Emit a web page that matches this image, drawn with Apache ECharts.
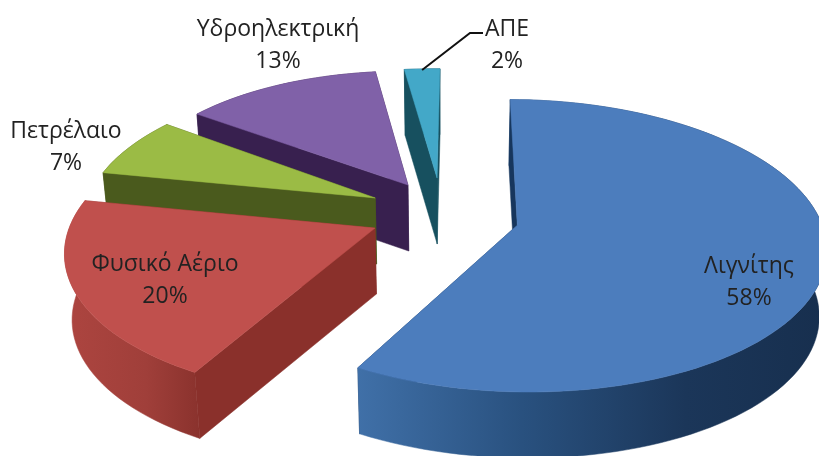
<!DOCTYPE html>
<html><head><meta charset="utf-8">
<style>html,body{margin:0;padding:0;background:#fff}#c{width:819px;height:456px}</style>
<script src="https://cdn.jsdelivr.net/npm/echarts@6/dist/echarts.min.js"></script>
</head><body><div id="c"></div>
<script>
// ---- data ----
const categories = ['Λιγνίτης','Φυσικό Αέριο','Πετρέλαιο','Υδροηλεκτρική','ΑΠΕ'];
const shares = [58,20,7,13,2];
const percentLabels = ['58%','20%','7%','13%','2%'];

// ---- layout & style of the exploded perspective pie ----
const view = {cx:445, cy:220, rx:296, ry:142.6, persp:0.141, depth:66, converge:0.98, startDeg:0.4};
const explodeX = [0.243,-0.2346,-0.241,-0.1295,-0.028];
const explodeY = [0.036,0.056,-0.158,-0.254,-0.307];
const widthScale = [1.03,1.025,1.01,1.01,1.2];
const radiusScale = [0.995,1,0.98,0.97,0.94];
const leanX = [0,0,0,0.03,0];
const paintOrder = [3,4,2,1,0];
const labelAt = [[749,282],[165,280],[66,147],[278,45],[507,45]];
const topColor = ['#4c7dbd','#c0504d','#9bbb45','#8061a8','#43a8c8'];
const cutColor = ['#17365d','#8a302b','#4a5a1d','#38204f','#17505f'];
const wallStops = [
  [[0,'#4070a8'],[0.35,'#29517f'],[0.7,'#1b3659'],[1,'#172f4e']],
  [[0,'#ad4540'],[0.6,'#a03f3a'],[1,'#8a322d']],
  [[0,'#4a5a1d'],[1,'#4a5a1d']],
  [[0,'#38204f'],[1,'#38204f']],
  [[0,'#17505f'],[1,'#17505f']]
];

const total = shares.reduce((a,b)=>a+b,0);
const bounds = [];
shares.reduce((from,v)=>{const to=from+v/total*360;bounds.push([from,to]);return to;},view.startDeg);

function project(i,gx,gy){
  const s = 1/(1-view.persp*gy);
  return [view.cx+view.rx*gx*s, view.cy+view.ry*gy*s];
}
function rimPoint(i,deg){
  const t = deg*Math.PI/180;
  const v = -Math.cos(t);
  return project(i,
    explodeX[i]+Math.sin(t)*widthScale[i]*radiusScale[i]+leanX[i]*v,
    explodeY[i]+v*radiusScale[i]);
}
const drop = p=>[view.cx+(p[0]-view.cx)*view.converge,p[1]+view.depth];
const poly = (pts,fill)=>({type:'polygon',shape:{points:pts},style:{fill:fill,stroke:fill,lineWidth:0.5}});

function renderSlice(params,api){
  const i = api.value(0);
  const [a,b] = bounds[i];
  const steps = Math.max(6,Math.round((b-a)/2));
  const rim = [];
  for(let k=0;k<=steps;k++) rim.push(rimPoint(i,a+(b-a)*k/steps));
  const apex = project(i,explodeX[i],explodeY[i]);
  const first = rim[0], last = rim[rim.length-1];
  const children = [];
  children.push(poly([apex,last,drop(last),drop(apex)],cutColor[i]));
  children.push(poly(rim.concat(rim.map(drop).reverse()),
    new echarts.graphic.LinearGradient(0,0,1,0,wallStops[i].map(s=>({offset:s[0],color:s[1]})))));
  children.push(poly([apex,first,drop(first),drop(apex)],cutColor[i]));
  children.push(poly([apex].concat(rim),topColor[i]));
  return {type:'group',children:children};
}
function renderLabel(params,api){
  const i = api.value(0);
  const at = labelAt[i];
  const children = [{type:'text',x:at[0],y:at[1],style:{
    text:categories[i]+'\n'+percentLabels[i],fill:'#222',
    font:'23px "Open Sans"',lineHeight:32,align:'center',verticalAlign:'middle'}}];
  if(i===4){
    const [a,b]=bounds[i];
    const m=rimPoint(i,(a+b)/2);
    children.push({type:'polyline',shape:{points:[[m[0],m[1]+1],[470,33],[483,33]]},
      style:{stroke:'#111',lineWidth:2,fill:null}});
  }
  return {type:'group',children:children};
}
const chart = echarts.init(document.getElementById('c'),null,{renderer:'canvas'});
chart.setOption({
  animation:false,backgroundColor:'#fff',
  series:[
    {type:'custom',coordinateSystem:'none',renderItem:renderSlice,z:2,clip:false,
     data:paintOrder.map(i=>({value:[i,shares[i]],name:categories[i]}))},
    {type:'custom',coordinateSystem:'none',renderItem:renderLabel,z:3,clip:false,
     data:paintOrder.map(i=>({value:[i,shares[i]],name:categories[i]}))}
  ]
});
</script></body></html>
